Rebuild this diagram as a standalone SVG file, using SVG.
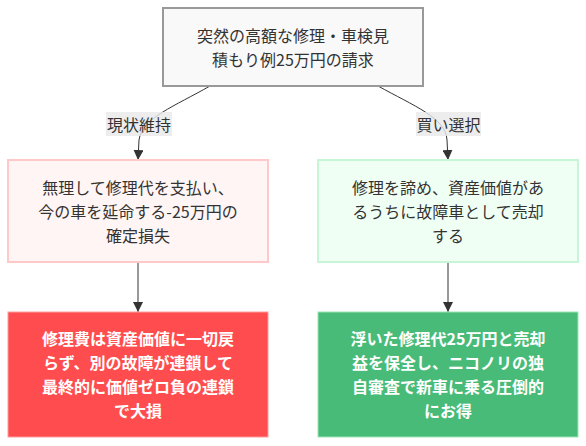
<svg xmlns="http://www.w3.org/2000/svg" width="586" height="446" viewBox="0 0 586 446">
<style>
text{font-family:"Noto Sans CJK JP","Noto Sans",sans-serif;font-size:16px;text-anchor:middle;dominant-baseline:central;fill:#333}
.w{fill:#fff;font-weight:bold}
.edge{fill:none;stroke:#333;stroke-width:1}
.lbl{fill:#e8e8e8;opacity:0.8}
</style>
<defs>
<marker id="arr" viewBox="0 0 10 10" refX="10" refY="5" markerWidth="10" markerHeight="10" markerUnits="userSpaceOnUse" orient="auto">
<path d="M0,0 L10,5 L0,10 z" fill="#333"/>
</marker>
</defs>
<g id="connectors">
<path class="edge" d="M210 86 C175 106,142 118,139 140 L138 160" marker-end="url(#arr)"/>
<path class="edge" d="M378 86 C414 106,446 118,447 140 L448 160" marker-end="url(#arr)"/>
<path class="edge" d="M138 262 L138 312" marker-end="url(#arr)"/>
<path class="edge" d="M448 262 L448 312" marker-end="url(#arr)"/>
<g id="label-left"><rect class="lbl" x="106" y="112" width="66" height="24"/><text x="139" y="124">現状維持</text></g>
<g id="label-right"><rect class="lbl" x="416" y="112" width="65" height="24"/><text x="448.5" y="124">買い選択</text></g>
</g>
<g id="top">
<rect x="163" y="8" width="260" height="78" fill="#f9f9f9" stroke="#999" stroke-width="2"/>
<text x="293" y="35">突然の高額な修理・車検見</text>
<text x="293" y="59">積もり例25万円の請求</text>
</g>
<g id="keep">
<rect x="8" y="160" width="260" height="102" fill="#fff5f5" stroke="#ffc9c9" stroke-width="2"/>
<text x="138" y="187">無理して修理代を支払い、</text>
<text x="138" y="211">今の車を延命する-25万円の</text>
<text x="138" y="235">確定損失</text>
</g>
<g id="buy">
<rect x="318" y="160" width="260" height="102" fill="#f0fff4" stroke="#c6f6d5" stroke-width="2"/>
<text x="448" y="187">修理を諦め、資産価値があ</text>
<text x="448" y="211">るうちに故障車として売却</text>
<text x="448" y="235">する</text>
</g>
<g id="loss">
<rect x="8" y="312" width="260" height="125" fill="#ff4d4f" stroke="#ff9b9b" stroke-width="1"/>
<text class="w" x="138" y="338">修理費は資産価値に一切戻</text>
<text class="w" x="138" y="362">らず、別の故障が連鎖して</text>
<text class="w" x="138" y="386">最終的に価値ゼロ負の連鎖</text>
<text class="w" x="138" y="410">で大損</text>
</g>
<g id="gain">
<rect x="318" y="312" width="260" height="125" fill="#48bb78" stroke="#9ae6b4" stroke-width="1"/>
<text class="w" x="448" y="338">浮いた修理代25万円と売却</text>
<text class="w" x="448" y="362">益を保全し、ニコノリの独</text>
<text class="w" x="448" y="386">自審査で新車に乗る圧倒的</text>
<text class="w" x="448" y="410">にお得</text>
</g>
</svg>
